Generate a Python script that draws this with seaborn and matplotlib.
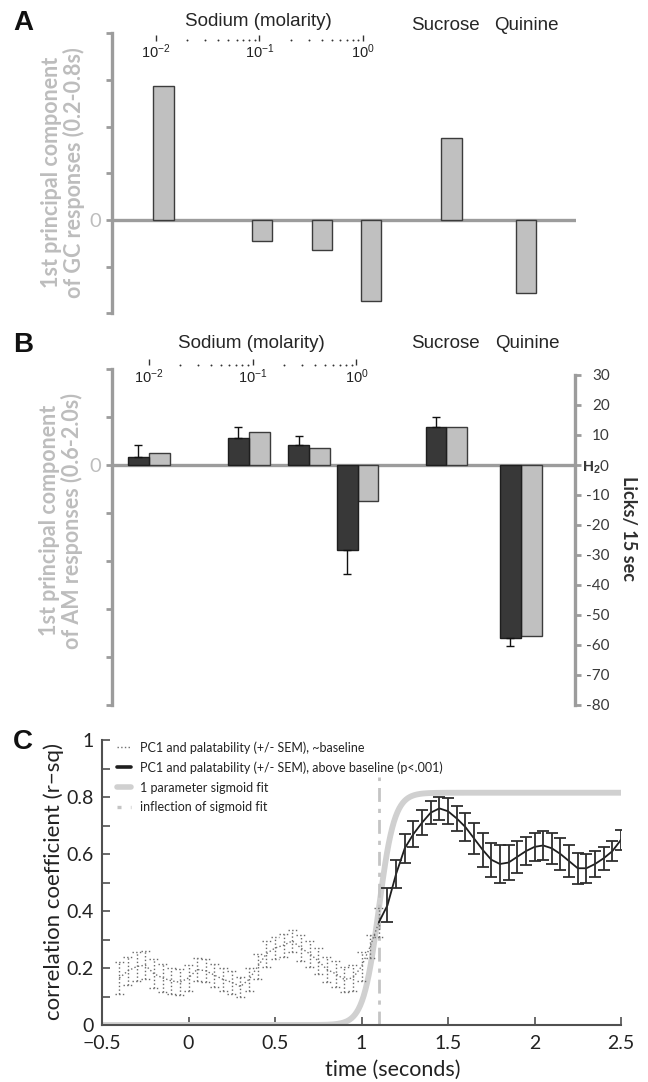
import numpy as np
import matplotlib
matplotlib.use("Agg")
import matplotlib.pyplot as plt
import matplotlib.transforms as mtrans
from matplotlib.lines import Line2D
import seaborn as sns

# ---------------- data ----------------
stimuli = ["NaCl 0.01 M", "NaCl 0.1 M", "NaCl 0.3 M", "NaCl 1.0 M", "Sucrose", "Quinine"]
gc_pc1 = [2.88, -0.44, -0.64, -1.74, 1.76, -1.56]          # panel A (PC1 units)
am_pc1 = [0.25, 0.69, 0.355, -0.75, 0.79, -3.57]           # panel B light bars
licks = [2.8, 9.1, 6.8, -28.3, 12.6, -57.8]                # panel B dark bars (licks/15 s re H2O)
licks_sem = [3.9, 3.6, 2.9, 8.0, 3.4, 2.5]

sodium_decades = [-2, -1, 0]
sodium_labels = [r"$10^{-2}$", r"$10^{-1}$", r"$10^{0}$"]
lick_ticks = [30, 20, 10, 0, -10, -20, -30, -40, -50, -60, -70, -80]
lick_labels = ["30", "20", "10", r"$\mathbf{H_2}$0", "-10", "-20", "-30", "-40",
               "-50", "-60", "-70", "-80"]

time_base = [-0.40, -0.35, -0.30, -0.25, -0.20, -0.15, -0.10, -0.05, 0.00, 0.05,
             0.10, 0.15, 0.20, 0.25, 0.30, 0.35, 0.40, 0.45, 0.50, 0.55,
             0.60, 0.65, 0.70, 0.75, 0.80, 0.85, 0.90, 0.95, 1.00, 1.05, 1.10]
r2_base = [0.165, 0.19, 0.205, 0.21, 0.18, 0.165, 0.155, 0.15, 0.165, 0.195,
           0.19, 0.175, 0.16, 0.15, 0.135, 0.16, 0.205, 0.25, 0.27, 0.28,
           0.295, 0.27, 0.25, 0.225, 0.195, 0.18, 0.16, 0.165, 0.205, 0.275, 0.36]
sem_base = [0.055, 0.05, 0.05, 0.05, 0.05, 0.05, 0.045, 0.045, 0.045, 0.04,
            0.04, 0.04, 0.04, 0.04, 0.035, 0.04, 0.045, 0.045, 0.04, 0.04,
            0.04, 0.045, 0.045, 0.045, 0.045, 0.045, 0.045, 0.045, 0.05, 0.04, 0.05]

time_above = [1.15, 1.20, 1.25, 1.30, 1.35, 1.40, 1.45, 1.50, 1.55, 1.60,
              1.65, 1.70, 1.75, 1.80, 1.85, 1.90, 1.95, 2.00, 2.05, 2.10,
              2.15, 2.20, 2.25, 2.30, 2.35, 2.40, 2.45, 2.50]
r2_above = [0.42, 0.53, 0.62, 0.67, 0.71, 0.745, 0.76, 0.75, 0.725, 0.695,
            0.655, 0.615, 0.58, 0.565, 0.57, 0.59, 0.61, 0.625, 0.63, 0.62,
            0.60, 0.575, 0.55, 0.55, 0.565, 0.585, 0.61, 0.65]
sem_above = [0.06, 0.05, 0.05, 0.045, 0.045, 0.04, 0.04, 0.045, 0.045, 0.05,
             0.055, 0.06, 0.06, 0.065, 0.06, 0.055, 0.05, 0.05, 0.05, 0.055,
             0.055, 0.055, 0.055, 0.05, 0.045, 0.04, 0.035, 0.035]

sigmoid_plateau = 0.815
sigmoid_inflection = 1.10
sigmoid_rate = 0.045

x_tick_vals = [-0.5, 0, 0.5, 1, 1.5, 2, 2.5]
x_tick_labels = ["\u22120.5", "0", "0.5", "1", "1.5", "2", "2.5"]
y_tick_vals = [0, 0.2, 0.4, 0.6, 0.8, 1.0]
y_tick_labels = ["0", "0.2", "0.4", "0.6", "0.8", "1"]

legend_labels = ["PC1 and palatability (+/- SEM), ~baseline",
                 "PC1 and palatability (+/- SEM), above baseline (p<.001)",
                 "1 parameter sigmoid fit",
                 "inflection of sigmoid fit"]

# ---------------- layout (pixel based) ----------------
W, H = 648, 1082
SLOT_X_A = [-1.928, -0.976, -0.396, 0.077, 0.855, 1.575]    # bar centres (decade units)
SLOT_X_B = [-1.998, -1.036, -0.454, 0.010, 0.865, 1.579]
BAR_W = 0.2

sns.set_style("white")
plt.rcParams["font.family"] = ["Liberation Sans", "DejaVu Sans"]
plt.rcParams["mathtext.fontset"] = "custom"
plt.rcParams["mathtext.rm"] = "Liberation Sans"
plt.rcParams["mathtext.it"] = "Liberation Sans:italic"
plt.rcParams["mathtext.bf"] = "Liberation Sans:bold"

GRAY_SP = "#9c9c9c"
GRAY_TXT = "#bdbdbd"

fig = plt.figure(figsize=(W / 100, H / 100), dpi=100)


def box(l, t, r, b):
    return [l / W, 1 - b / H, (r - l) / W, (b - t) / H]


def fx(px):
    return px / W


def fy(py):
    return 1 - py / H


def native_bars(ax, xs, vals, color, edge):
    xs = np.asarray(xs, dtype=float)
    native = np.min(np.diff(np.sort(xs)))
    sns.barplot(x=xs, y=vals, native_scale=True, width=BAR_W / native, errorbar=None,
                orient="x", color=color, saturation=1, edgecolor=edge, linewidth=1.0,
                ax=ax)


def sodium_axis_marks(ax, ymark, ylab):
    tr = mtrans.blended_transform_factory(ax.transData, ax.transAxes)
    minors = [e + np.log10(k) for e in sodium_decades[:-1] for k in range(2, 10)]
    ax.plot(sodium_decades, [ymark] * len(sodium_decades), ls="none", marker="|",
            ms=4.5, mew=1.0, color="#333333", transform=tr, clip_on=False)
    ax.plot(minors, [ymark - 0.006] * len(minors), ls="none", marker="o", ms=1.4,
            mew=0, color="#333333", transform=tr, clip_on=False)
    for d, lab in zip(sodium_decades, sodium_labels):
        ax.text(d, ylab, lab, transform=tr, ha="center", va="center", fontsize=10.5,
                color="#222222")


def style_left(ax, lo, hi):
    for s in ["top", "right", "bottom"]:
        ax.spines[s].set_visible(False)
    ax.spines["left"].set_color(GRAY_SP)
    ax.spines["left"].set_linewidth(2.4)
    ax.spines["left"].set_bounds(lo, hi)
    ticks = list(range(lo, hi + 1))
    ax.set_yticks(ticks)
    ax.set_yticklabels(["0" if t == 0 else "" for t in ticks],
                       fontfamily="Lato", fontsize=14.5)
    ax.tick_params(axis="y", direction="out", length=4, width=2, color=GRAY_SP,
                   labelcolor=GRAY_TXT, pad=4, left=True)
    ax.set_xticks([])
    ax.set_xlabel("")
    ax.axhline(0, color=GRAY_SP, lw=2.4, zorder=0.5)


# ---------------- Panel A ----------------
axA = fig.add_axes(box(112, 33.2, 576, 313.4))
axA.patch.set_alpha(0)
native_bars(axA, SLOT_X_A, gc_pc1, "#c0c0c0", "#3c3c3c")
axA.set_xlim(-2.425, 2.058)
axA.set_ylim(-2, 4)
style_left(axA, -2, 4)
axA.set_ylabel("1st principal component\nof GC responses (0.2-0.8s)", fontfamily="Lato",
               fontweight="bold", fontsize=15.5, color=GRAY_TXT, va="center", ha="center",
               linespacing=1.05)
axA.yaxis.set_label_coords((63 - 112) / 464, 0.504)
sodium_axis_marks(axA, (313.4 - 38) / 280.2, (313.4 - 52) / 280.2)

fig.text(fx(258), fy(22), "Sodium (molarity)", ha="center", va="center", fontsize=13.5)
fig.text(fx(445), fy(25), "Sucrose", ha="center", va="center", fontsize=13.5)
fig.text(fx(526), fy(25), "Quinine", ha="center", va="center", fontsize=13.5)

# ---------------- Panel B ----------------
axB = fig.add_axes(box(112, 369, 575, 705))
axB.patch.set_alpha(0)
native_bars(axB, np.array(SLOT_X_B) + BAR_W / 2, am_pc1, "#c0c0c0", "#3c3c3c")
axB.set_xlim(-2.351, 2.101)
axB.set_ylim(-5, 2)
style_left(axB, -5, 2)
axB.set_ylabel("1st principal component\nof AM responses (0.6-2.0s)", fontfamily="Lato",
               fontweight="bold", fontsize=15.5, color=GRAY_TXT, va="center", ha="center",
               linespacing=1.05)
axB.yaxis.set_label_coords((61 - 112) / 463, 0.548)
sodium_axis_marks(axB, (705 - 362.5) / 336, (705 - 377) / 336)

axR = axB.twinx()
dark_x = np.array(SLOT_X_B) - BAR_W / 2
native_bars(axR, dark_x, licks, "#383838", "#1e1e1e")
lo_err = [s if v < 0 else 0 for v, s in zip(licks, licks_sem)]
hi_err = [s if v >= 0 else 0 for v, s in zip(licks, licks_sem)]
axR.errorbar(dark_x, licks, yerr=[lo_err, hi_err], fmt="none", ecolor="#111111",
             elinewidth=1.0, capsize=2.8, capthick=1.0)
axR.set_xlim(-2.351, 2.101)
axR.set_ylim(-80, 32)
for s in ["top", "left", "bottom"]:
    axR.spines[s].set_visible(False)
axR.spines["right"].set_color(GRAY_SP)
axR.spines["right"].set_linewidth(2.4)
axR.spines["right"].set_bounds(-80, 30)
axR.set_yticks(lick_ticks)
axR.set_yticklabels(lick_labels, fontfamily="Lato", fontsize=11)
for lab in axR.get_yticklabels():
    lab.set_ha("right")
axR.tick_params(axis="y", direction="out", length=4, width=2, color=GRAY_SP,
                labelcolor="#3a3a3a", pad=21, right=True)
axR.set_xticks([])
axR.set_ylabel("Licks/ 15 sec", fontfamily="Lato", fontweight="bold", fontsize=13,
               color="#303030", rotation=-90, va="center", ha="center")
axR.yaxis.set_label_coords((628 - 112) / 463, (705 - 528) / 336)

fig.text(fx(251), fy(343), "Sodium (molarity)", ha="center", va="center", fontsize=13.5)
fig.text(fx(445), fy(343), "Sucrose", ha="center", va="center", fontsize=13.5)
fig.text(fx(527), fy(343), "Quinine", ha="center", va="center", fontsize=13.5)

# ---------------- Panel C ----------------
axC = fig.add_axes(box(102, 740, 621, 1025))
ts = np.linspace(-0.5, 2.5, 600)
sig = sigmoid_plateau / (1 + np.exp(-(ts - sigmoid_inflection) / sigmoid_rate))
sns.lineplot(x=ts, y=sig, ax=axC, color="#d0d0d0", lw=4.2, zorder=1)
axC.axvline(sigmoid_inflection, ymin=0, ymax=0.87, color="#c4c4c4", lw=2,
            ls=(0, (5, 2.5, 1.5, 2.5)), zorder=1.5)

tb = np.array(time_base)
rb = np.array(r2_base)
eb = np.array(sem_base)
half = 0.026
axC.vlines(tb, rb - eb, rb + eb, colors="#6a6a6a", linestyles=":", lw=1.0, zorder=2)
axC.hlines(np.concatenate([rb - eb, rb + eb]), np.concatenate([tb - half, tb - half]),
           np.concatenate([tb + half, tb + half]), colors="#6a6a6a", linestyles=":",
           lw=1.0, zorder=2)
sns.lineplot(x=tb, y=rb, ax=axC, color="#707070", lw=1.0, ls=":", zorder=3)

ta = [time_base[-1]] + time_above
ra = [r2_base[-1]] + r2_above
sns.lineplot(x=ta, y=ra, ax=axC, color="#1e1e1e", lw=1.3, zorder=4)
axC.errorbar(time_above, r2_above, yerr=sem_above, fmt="none", ecolor="#2e2e2e",
             elinewidth=1.3, capsize=4.5, capthick=1.3, zorder=4)

axC.set_xlim(-0.5, 2.5)
axC.set_ylim(0, 1)
for s in ["top", "right"]:
    axC.spines[s].set_visible(False)
for s in ["left", "bottom"]:
    axC.spines[s].set_color("#505050")
    axC.spines[s].set_linewidth(1.5)
axC.set_xticks(x_tick_vals)
axC.set_xticklabels(x_tick_labels, fontfamily="Lato", fontsize=14)
axC.set_yticks(y_tick_vals)
axC.set_yticklabels(y_tick_labels, fontfamily="Lato", fontsize=14)
axC.set_yticks([0.1, 0.3, 0.5, 0.7, 0.9], minor=True)
axC.tick_params(axis="both", which="both", direction="in", length=6, width=1.2,
                color="#505050", labelcolor="#222222", bottom=True, left=True)
axC.tick_params(axis="y", pad=6)
axC.tick_params(axis="x", pad=7)
axC.set_xlabel("time (seconds)", fontfamily="Lato", fontsize=15.5, color="#222222",
               va="center")
axC.xaxis.set_label_coords(0.56, (1025 - 1070) / 285)
axC.set_ylabel("correlation coefficient (r\u2212sq)", fontfamily="Lato", fontsize=16,
               color="#222222", va="center")
axC.yaxis.set_label_coords((54 - 102) / 519, 0.505)

handles = [Line2D([], [], color="#707070", lw=1.0, ls=":"),
           Line2D([], [], color="#1e1e1e", lw=2.6),
           Line2D([], [], color="#d0d0d0", lw=4.0),
           Line2D([], [], color="#c4c4c4", lw=2.4, ls=(1, (2.2, 2.8)))]
leg = axC.legend(handles, legend_labels, loc="upper left",
                 bbox_to_anchor=((117 - 102) / 519, (1025 - 741) / 285),
                 frameon=False, borderaxespad=0, borderpad=0, handlelength=1.1,
                 handletextpad=0.7, labelspacing=0.62,
                 prop={"family": "Lato", "size": 9})
for t in leg.get_texts():
    t.set_color("#222222")

# ---------------- panel letters ----------------
for letter, top in [("A", 10), ("B", 332), ("C", 729)]:
    fig.text(fx(13), fy(top), letter, fontsize=20, fontweight="bold", va="top",
             ha="left", color="#111111")

fig.savefig("out.png", dpi=100)
